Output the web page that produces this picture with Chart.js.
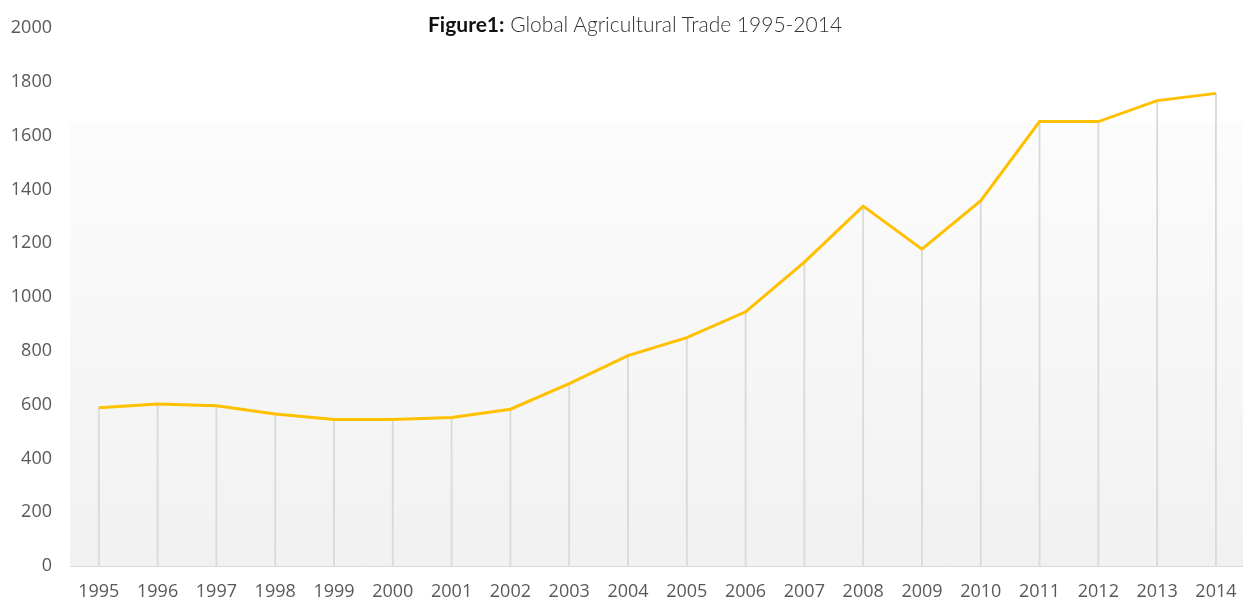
<!DOCTYPE html>
<html>
<head>
<meta charset="utf-8">
<title>Global Agricultural Trade 1995-2014</title>
<script src="https://cdn.jsdelivr.net/npm/chart.js@4/dist/chart.umd.min.js"></script>
<style>
  html, body { margin: 0; padding: 0; background: #ffffff; }
  #wrap { position: relative; width: 1243px; height: 599px; overflow: hidden; }
  #chart { position: absolute; left: 0; top: 0; }
  #title {
    position: absolute; left: 428px; top: 13px;
    font-family: "Lato", "Open Sans", sans-serif; font-size: 21px; line-height: 21px;
    white-space: nowrap; color: #333333; font-weight: 300;
  }
  #title b { font-weight: 700; color: #111111; }
</style>
</head>
<body>
<div id="wrap">
  <canvas id="chart" width="1243" height="599"></canvas>
  <div id="title"><b>Figure1:</b> Global Agricultural Trade 1995-2014</div>
</div>
<script>
// Years on the horizontal axis
const years = ["1995", "1996", "1997", "1998", "1999", "2000", "2001", "2002", "2003", "2004",
               "2005", "2006", "2007", "2008", "2009", "2010", "2011", "2012", "2013", "2014"];
// Global agricultural trade per year
const tradeValues = [588, 602, 596, 565, 545, 545, 552, 583, 678, 782,
                     849, 945, 1130, 1338, 1178, 1358, 1652, 1652, 1730, 1757];
// Value axis ticks
const yTicks = [0, 200, 400, 600, 800, 1000, 1200, 1400, 1600, 1800, 2000];

const linePoints = tradeValues.map((v, i) => ({ x: i, y: v }));

// Soft white-to-grey fill behind the plot area
const plotBackground = {
  id: 'plotBackground',
  beforeDraw(chart) {
    const { ctx, chartArea: a } = chart;
    const g = ctx.createLinearGradient(0, a.top, 0, a.bottom);
    g.addColorStop(0, '#ffffff');
    g.addColorStop(0.17, '#ffffff');
    g.addColorStop(0.18, '#fcfcfc');
    g.addColorStop(1, '#f1f1f1');
    ctx.save();
    ctx.fillStyle = g;
    ctx.fillRect(a.left, a.top, a.right - a.left, a.bottom - a.top);
    ctx.restore();
  }
};

const tickFont = { family: "'Open Sans', 'Noto Sans', sans-serif", size: 18 };

new Chart(document.getElementById('chart'), {
  data: {
    datasets: [
      {
        type: 'line',
        data: linePoints,
        borderColor: '#FFC000',
        borderWidth: 3,
        pointRadius: 0,
        tension: 0,
        order: 0
      },
      {
        // thin drop lines from each year's value down to the axis
        type: 'bar',
        data: linePoints,
        backgroundColor: '#dadada',
        barThickness: 1.2,
        order: 1
      }
    ]
  },
  options: {
    responsive: false,
    animation: false,
    events: [],
    layout: { padding: { top: 28, right: 0, bottom: 0, left: 0 } },
    plugins: { legend: { display: false }, tooltip: { enabled: false }, title: { display: false } },
    scales: {
      x: {
        type: 'linear',
        min: -0.49,
        max: 19.46,
        offset: false,
        grid: { display: false, drawTicks: false },
        border: { display: true, color: '#d9d9d9', width: 1 },
        afterBuildTicks: s => { s.ticks = years.map((_, i) => ({ value: i })); },
        afterFit: s => { s.height = 33; s.paddingLeft = 0; s.paddingRight = 0; },
        ticks: {
          autoSkip: false,
          maxRotation: 0,
          padding: 15,
          color: '#595959',
          font: tickFont,
          callback: v => years[v]
        }
      },
      y: {
        min: 0,
        max: 2000,
        grid: { display: false, drawTicks: false },
        border: { display: false },
        afterBuildTicks: s => { s.ticks = yTicks.map(v => ({ value: v })); },
        afterFit: s => { s.width = 70; s.paddingTop = 0; s.paddingBottom = 0; },
        ticks: {
          padding: 18,
          color: '#595959',
          font: tickFont,
          callback: v => String(v)
        }
      }
    }
  },
  plugins: [plotBackground]
});
</script>
</body>
</html>
